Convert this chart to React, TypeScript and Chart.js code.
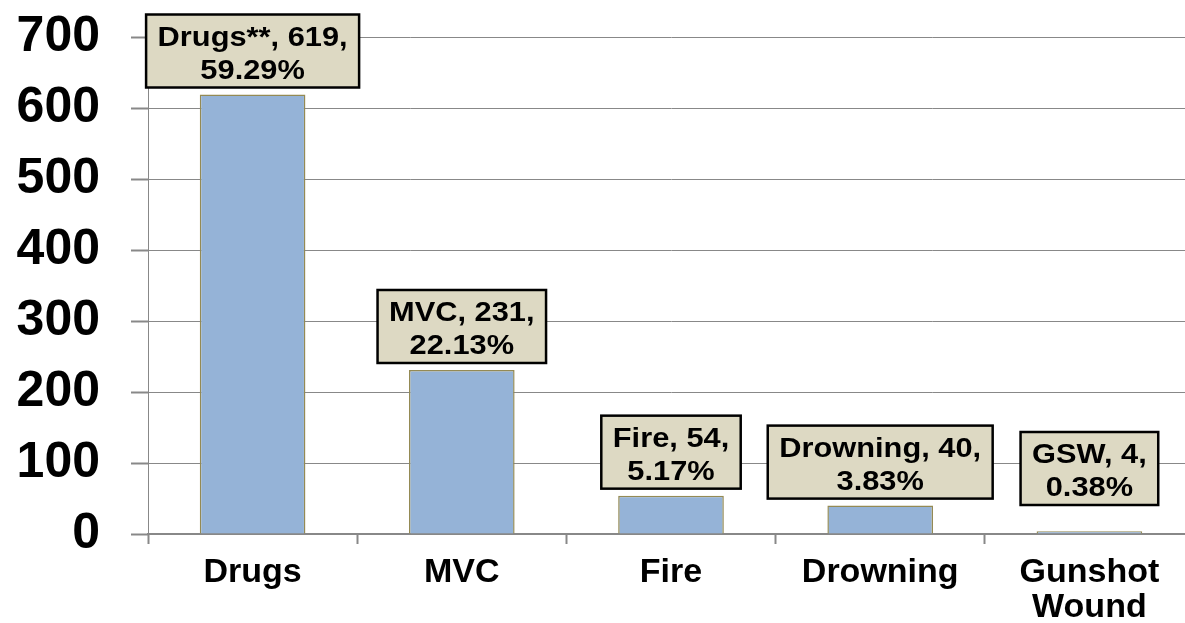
import React, { useEffect, useRef } from 'react';
import { Chart, registerables } from 'chart.js';

Chart.register(...registerables);

const categories: string[][] = [['Drugs'], ['MVC'], ['Fire'], ['Drowning'], ['Gunshot', 'Wound']];
const labelNames = ['Drugs**', 'MVC', 'Fire', 'Drowning', 'GSW'];
const values = [619, 231, 54, 40, 4];
const percents = ['59.29%', '22.13%', '5.17%', '3.83%', '0.38%'];
const yMin = 0;
const yMax = 700;
const yStep = 100;

const FONT = '"Liberation Sans", Arial, Helvetica, sans-serif';

const boxLabelPlugin = {
  id: 'boxLabels',
  afterDatasetsDraw(chart: any) {
    const ctx: CanvasRenderingContext2D = chart.ctx;
    const meta = chart.getDatasetMeta(0);
    const axisY = chart.scales.y.getPixelForValue(0);
    const sx = 1.1;
    ctx.save();
    ctx.font = `bold 28px ${FONT}`;
    meta.data.forEach((el: any, i: number) => {
      const lines = [`${labelNames[i]}, ${values[i]},`, percents[i]];
      const tw = Math.max(...lines.map((l) => ctx.measureText(l).width)) * sx;
      const w = tw + 23;
      const h = 73;
      const bottom = Math.min(el.y - 7, axisY - 29);
      const top = bottom - h;
      const left = el.x - w / 2;
      ctx.fillStyle = '#DDD9C3';
      ctx.fillRect(left, top, w, h);
      ctx.lineWidth = 2.5;
      ctx.strokeStyle = '#000000';
      ctx.strokeRect(left, top, w, h);
      ctx.fillStyle = '#000000';
      ctx.textAlign = 'center';
      ctx.textBaseline = 'alphabetic';
      lines.forEach((l, j) => {
        ctx.save();
        ctx.translate(el.x, top + 31 + j * 33);
        ctx.scale(sx, 1);
        ctx.fillText(l, 0, 0);
        ctx.restore();
      });
    });
    ctx.restore();
  },
};

export default function App() {
  const ref = useRef<HTMLCanvasElement | null>(null);

  useEffect(() => {
    if (!ref.current) return;
    const chart = new Chart(ref.current, {
      type: 'bar',
      data: {
        labels: categories,
        datasets: [
          {
            data: values,
            backgroundColor: '#95B3D7',
            borderColor: '#948A54',
            borderWidth: 1.5,
            barPercentage: 0.505,
            categoryPercentage: 1,
          },
        ],
      },
      options: {
        responsive: false,
        animation: false,
        devicePixelRatio: 1,
        layout: { padding: { top: 37, left: 0, right: 0, bottom: 0 } },
        plugins: {
          legend: { display: false },
          tooltip: { enabled: false },
          title: { display: false },
        },
        scales: {
          x: {
            grid: {
              display: true,
              drawOnChartArea: false,
              drawTicks: true,
              tickLength: 10,
              color: '#888888',
              tickWidth: 2,
            },
            border: { display: true, color: '#888888', width: 2 },
            ticks: {
              color: '#000000',
              font: { family: FONT, size: 34, weight: 'bold', lineHeight: 1.03 },
              padding: 11,
              maxRotation: 0,
              autoSkip: false,
            },
            afterFit(scale: any) {
              scale.height = 89;
              scale.paddingLeft = 0;
              scale.paddingRight = 0;
            },
          },
          y: {
            min: yMin,
            max: yMax,
            grid: {
              color: '#888888',
              lineWidth: 1,
              tickLength: 17,
              tickWidth: 2,
            },
            border: { display: true, color: '#888888', width: 1 },
            ticks: {
              stepSize: yStep,
              color: '#000000',
              font: { family: FONT, size: 50, weight: 'bold' },
              padding: 31,
            },
            afterFit(scale: any) {
              scale.width = 148;
              scale.paddingTop = 0;
              scale.paddingBottom = 0;
            },
          },
        },
      },
      plugins: [boxLabelPlugin],
    });
    return () => chart.destroy();
  }, []);

  return (
    <div
      style={{
        position: 'fixed',
        left: 0,
        top: 0,
        width: 1185,
        height: 623,
        overflow: 'hidden',
        background: '#ffffff',
      }}
    >
      <canvas ref={ref} width={1194} height={623} style={{ display: 'block' }} />
    </div>
  );
}
